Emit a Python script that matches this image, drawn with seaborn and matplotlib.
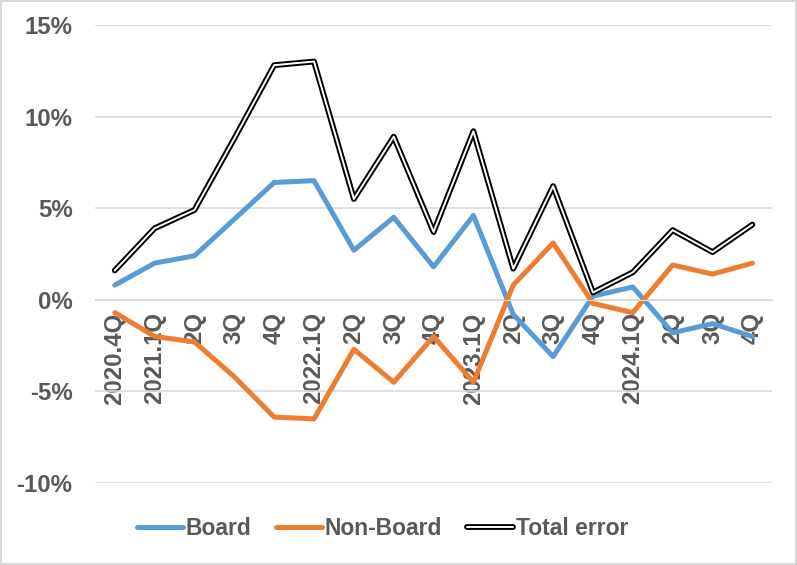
import matplotlib
matplotlib.use("Agg")
import matplotlib.pyplot as plt
import matplotlib.patheffects as pe
from matplotlib.lines import Line2D
from matplotlib.ticker import FuncFormatter
import seaborn as sns
import numpy as np
import pandas as pd

# values in %
quarters = ["2020.4Q", "2021.1Q", "2Q", "3Q", "4Q", "2022.1Q", "2Q", "3Q", "4Q",
            "2023.1Q", "2Q", "3Q", "4Q", "2024.1Q", "2Q", "3Q", "4Q"]
board = [0.8, 2.0, 2.4, 4.4, 6.4, 6.5, 2.7, 4.5, 1.8, 4.6, -0.8, -3.1, 0.2, 0.7, -1.8, -1.3, -2.0]
non_board = [-0.7, -2.0, -2.3, -4.2, -6.4, -6.5, -2.7, -4.5, -2.0, -4.5, 0.8, 3.1, -0.2, -0.7, 1.9, 1.4, 2.0]
total_error = [1.6, 3.9, 4.9, 8.8, 12.8, 13.0, 5.5, 8.9, 3.7, 9.2, 1.7, 6.2, 0.4, 1.5, 3.8, 2.6, 4.1]

series_names = ["Board", "Non-Board", "Total error"]
colors = ["#5B9BD5", "#ED7D31", "white"]

sns.set_style("white")
plt.rcParams["font.family"] = ["Liberation Sans", "DejaVu Sans"]
plt.rcParams["font.weight"] = "bold"

pos = np.arange(len(quarters))
df = pd.DataFrame({
    "pos": np.tile(pos, 3),
    "value": board + non_board + total_error,
    "series": np.repeat(series_names, len(quarters)),
})

fig = plt.figure(figsize=(7.97, 5.65), dpi=100)
fig.patch.set_edgecolor("#d9d9d9")
fig.patch.set_linewidth(1.5)
ax = fig.add_axes([0.119, 0.145, 0.850, 0.811])

sns.lineplot(data=df, x="pos", y="value", hue="series", hue_order=series_names,
             palette=colors, linewidth=3.6, ax=ax, legend=False)

gray = "#595959"
double_fx = [pe.Stroke(linewidth=4.2, foreground="black"), pe.Normal()]
for line in ax.lines:
    line.set_solid_joinstyle("round")
    line.set_solid_capstyle("round")
# double black/white line for total error
ax.lines[2].set_linewidth(1.4)
ax.lines[2].set_path_effects(double_fx)
ax.lines[2].set_zorder(3)

# x axis crosses at 0, labels hang below it
for s in ["top", "right", "left"]:
    ax.spines[s].set_visible(False)
ax.spines["bottom"].set_position(("data", 0))
ax.spines["bottom"].set_color("#d9d9d9")

ax.set_xlim(-0.5, len(quarters) - 0.5)
ax.set_ylim(-10, 15)
ax.set_yticks([-10, -5, 0, 5, 10, 15])
ax.yaxis.set_major_formatter(FuncFormatter(lambda v, p: f"{v:.0f}%"))
ax.set_xticks(pos)
ax.set_xticklabels(quarters)

ax.set_axisbelow(True)
ax.yaxis.grid(True, color="#d9d9d9", linewidth=1.2)
ax.xaxis.grid(False)
ax.tick_params(axis="x", length=0, pad=9, labelsize=17.3, labelcolor=gray, labelrotation=90)
ax.tick_params(axis="y", length=0, pad=16, labelsize=17.3, labelcolor=gray)
for lab in ax.get_xticklabels() + ax.get_yticklabels():
    lab.set_fontweight("bold")

ax.set_xlabel("")
ax.set_ylabel("")

handles = [
    Line2D([], [], color=colors[0], linewidth=3.6, solid_capstyle="round"),
    Line2D([], [], color=colors[1], linewidth=3.6, solid_capstyle="round"),
    Line2D([], [], color="white", linewidth=1.4, path_effects=double_fx),
]
leg = fig.legend(handles, series_names, loc="center", bbox_to_anchor=(0.48, 0.064), ncol=3,
                 frameon=False, handlelength=2.0, handletextpad=0.12, columnspacing=1.1,
                 prop={"size": 16.5, "weight": "bold"})
for t in leg.get_texts():
    t.set_color(gray)

fig.savefig("out.png", dpi=100)
